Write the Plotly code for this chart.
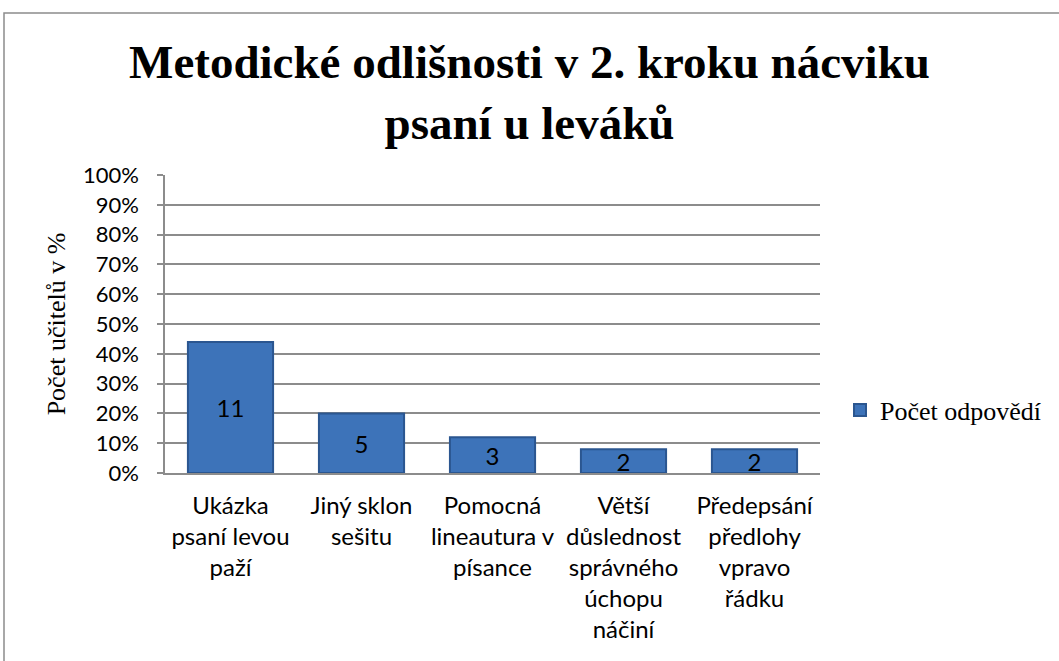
import plotly.graph_objects as go

categories = [
    "Ukázka<br>psaní levou<br>paží",
    "Jiný sklon<br>sešitu",
    "Pomocná<br>lineautura v<br>písance",
    "Větší<br>důslednost<br>správného<br>úchopu<br>náčiní",
    "Předepsání<br>předlohy<br>vpravo<br>řádku",
]
counts = [11, 5, 3, 2, 2]
percent = [0.44, 0.20, 0.12, 0.08, 0.08]
series_name = "Počet odpovědí"
title_text = "Metodické odlišnosti v 2. kroku nácviku<br>psaní u leváků"
y_title = "Počet učitelů v %"

W, H = 1059, 661
L, R, T, B = 165, 239, 175, 188

fig = go.Figure()
fig.add_trace(go.Bar(
    x=categories, y=percent, name=series_name,
    text=[str(c) for c in counts],
    textposition="inside", insidetextanchor="middle", textangle=0,
    constraintext="none", cliponaxis=False,
    textfont=dict(family="Lato", size=24, color="black"),
    marker=dict(color="#3D73B9", line=dict(color="#2B5690", width=2)),
    width=0.65,
    showlegend=True,
))

fig.update_layout(
    width=W, height=H,
    margin=dict(l=L, r=R, t=T, b=B),
    paper_bgcolor="white", plot_bgcolor="white",
    title=dict(text=title_text, x=0.5, xanchor="center",
               y=1 - 78 / H, yanchor="middle",
               font=dict(family="Liberation Serif", size=47, color="black",
                         weight="bold")),
    showlegend=True,
    legend=dict(x=1.0305, y=0.211, xanchor="left", yanchor="middle",
                font=dict(family="Liberation Serif", size=26, color="black"),
                bgcolor="rgba(0,0,0,0)"),
    xaxis=dict(showgrid=False, showline=True, linecolor="#8C8C8C", linewidth=1.5,
               ticks="", tickfont=dict(family="Lato", size=24, color="black"),
               tickangle=0, ticklabelstandoff=10),
    yaxis=dict(range=[0, 1], dtick=0.1, tickformat=".0%",
               showgrid=True, gridcolor="#8C8C8C", gridwidth=1.5,
               showline=True, linecolor="#8C8C8C", linewidth=1.5,
               ticks="outside", ticklen=6, tickcolor="#8C8C8C", tickwidth=1.5,
               tickfont=dict(family="Lato", size=22, color="black"),
               ticklabelstandoff=14,
               title=dict(text=y_title, standoff=10,
                          font=dict(family="Liberation Serif", size=26, color="black")),
               zeroline=False),
    shapes=[dict(type="rect", xref="paper", yref="paper",
                 x0=(4 - L) / (W - L - R), x1=1.6,
                 y0=-0.8, y1=(H - B - 13) / (H - T - B),
                 line=dict(color="#8C8C8C", width=1.5), fillcolor="rgba(0,0,0,0)",
                 layer="below")],
)

fig.write_html("out.html", config={"displayModeBar": False},
               post_script="document.body.style.margin='0';document.body.style.overflow='hidden';")
